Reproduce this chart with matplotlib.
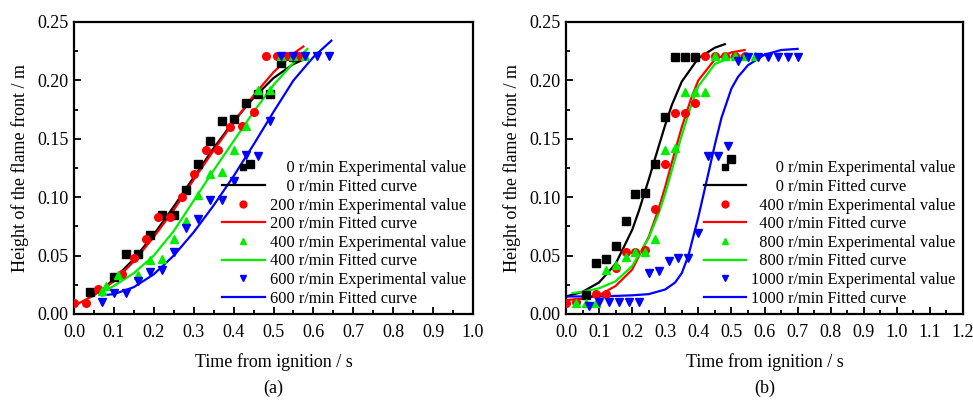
import matplotlib

matplotlib.use("Agg")
import matplotlib.pyplot as plt
from matplotlib.ticker import MultipleLocator, FormatStrFormatter

plt.rcParams["font.family"] = ["Liberation Serif", "DejaVu Serif"]
plt.rcParams["mathtext.fontset"] = "stix"

# ---------------- panel (a): 0 / 200 / 400 / 600 r/min ----------------
a_speeds = ["0", "200", "400", "600"]

a0_t = [0.04, 0.10, 0.13, 0.16, 0.19, 0.22, 0.25, 0.28, 0.31, 0.34, 0.37, 0.40, 0.43, 0.44, 0.46, 0.49, 0.52, 0.55]
a0_h = [0.019, 0.032, 0.051, 0.051, 0.068, 0.085, 0.085, 0.106, 0.128, 0.148, 0.165, 0.167, 0.181, 0.128, 0.188, 0.188, 0.215, 0.220]
a200_t = [0.00, 0.03, 0.06, 0.12, 0.15, 0.18, 0.21, 0.24, 0.27, 0.30, 0.33, 0.36, 0.39, 0.42, 0.45, 0.48, 0.51, 0.535, 0.565]
a200_h = [0.009, 0.009, 0.021, 0.034, 0.048, 0.064, 0.083, 0.083, 0.100, 0.120, 0.140, 0.140, 0.160, 0.161, 0.173, 0.221, 0.221, 0.221, 0.221]
a400_t = [0.07, 0.08, 0.11, 0.16, 0.19, 0.22, 0.25, 0.28, 0.31, 0.34, 0.37, 0.40, 0.43, 0.46, 0.49, 0.52, 0.55, 0.58]
a400_h = [0.020, 0.024, 0.033, 0.033, 0.046, 0.047, 0.064, 0.080, 0.102, 0.120, 0.122, 0.140, 0.161, 0.192, 0.192, 0.221, 0.221, 0.221]
a600_t = [0.07, 0.10, 0.13, 0.16, 0.19, 0.22, 0.25, 0.28, 0.31, 0.34, 0.37, 0.40, 0.43, 0.46, 0.49, 0.52, 0.55, 0.58, 0.61, 0.64]
a600_h = [0.010, 0.018, 0.018, 0.028, 0.036, 0.038, 0.053, 0.074, 0.081, 0.098, 0.098, 0.114, 0.136, 0.135, 0.165, 0.221, 0.221, 0.221, 0.221, 0.221]

# fitted curves
a0_fit_t = [0.065, 0.10, 0.15, 0.20, 0.25, 0.30, 0.35, 0.40, 0.45, 0.50, 0.55, 0.57]
a0_fit_h = [0.019, 0.030, 0.047, 0.068, 0.092, 0.117, 0.142, 0.165, 0.185, 0.202, 0.214, 0.217]
a200_fit_t = [0.00, 0.05, 0.10, 0.15, 0.20, 0.25, 0.30, 0.35, 0.40, 0.45, 0.50, 0.55, 0.575]
a200_fit_h = [0.007, 0.016, 0.028, 0.045, 0.066, 0.089, 0.115, 0.140, 0.164, 0.187, 0.207, 0.223, 0.229]
a400_fit_t = [0.065, 0.10, 0.15, 0.20, 0.25, 0.30, 0.35, 0.40, 0.45, 0.50, 0.55, 0.585]
a400_fit_h = [0.018, 0.024, 0.035, 0.050, 0.071, 0.097, 0.123, 0.148, 0.173, 0.196, 0.215, 0.227]
a600_fit_t = [0.07, 0.10, 0.15, 0.20, 0.25, 0.30, 0.35, 0.40, 0.45, 0.50, 0.55, 0.60, 0.645]
a600_fit_h = [0.016, 0.017, 0.023, 0.034, 0.050, 0.070, 0.093, 0.118, 0.145, 0.173, 0.200, 0.220, 0.234]

# ---------------- panel (b): 0 / 400 / 800 / 1000 r/min ----------------
b_speeds = ["0", "400", "800", "1000"]

b0_t = [0.06, 0.09, 0.12, 0.15, 0.18, 0.21, 0.24, 0.27, 0.30, 0.33, 0.36, 0.39, 0.50]
b0_h = [0.016, 0.044, 0.047, 0.058, 0.080, 0.103, 0.104, 0.128, 0.169, 0.220, 0.220, 0.220, 0.133]
b400_t = [0.00, 0.03, 0.09, 0.12, 0.15, 0.18, 0.21, 0.24, 0.27, 0.30, 0.33, 0.36, 0.39, 0.42, 0.45, 0.48, 0.51, 0.54]
b400_h = [0.009, 0.010, 0.017, 0.017, 0.039, 0.053, 0.053, 0.055, 0.090, 0.128, 0.172, 0.172, 0.181, 0.221, 0.221, 0.221, 0.221, 0.221]
b800_t = [0.03, 0.06, 0.09, 0.12, 0.15, 0.18, 0.21, 0.24, 0.27, 0.30, 0.33, 0.36, 0.39, 0.42, 0.45, 0.48, 0.51, 0.54, 0.57]
b800_h = [0.009, 0.009, 0.009, 0.038, 0.042, 0.049, 0.053, 0.053, 0.064, 0.140, 0.142, 0.190, 0.190, 0.190, 0.221, 0.221, 0.221, 0.221, 0.221]
b1000_t = [0.07, 0.10, 0.13, 0.16, 0.19, 0.22, 0.25, 0.28, 0.31, 0.34, 0.37, 0.40, 0.43, 0.46, 0.49, 0.52, 0.55, 0.58, 0.61, 0.64, 0.67, 0.70]
b1000_h = [0.007, 0.010, 0.010, 0.010, 0.010, 0.010, 0.035, 0.037, 0.045, 0.048, 0.048, 0.069, 0.135, 0.135, 0.144, 0.217, 0.220, 0.220, 0.220, 0.220, 0.220, 0.220]

b0_fit_t = [0.00, 0.05, 0.10, 0.15, 0.20, 0.22, 0.25, 0.27, 0.30, 0.32, 0.35, 0.40, 0.45, 0.48]
b0_fit_h = [0.015, 0.019, 0.027, 0.043, 0.072, 0.088, 0.115, 0.134, 0.162, 0.179, 0.199, 0.219, 0.228, 0.231]
b400_fit_t = [0.00, 0.05, 0.10, 0.15, 0.20, 0.25, 0.28, 0.30, 0.33, 0.35, 0.38, 0.40, 0.45, 0.50, 0.54]
b400_fit_h = [0.012, 0.013, 0.016, 0.024, 0.038, 0.066, 0.090, 0.109, 0.140, 0.160, 0.186, 0.200, 0.218, 0.224, 0.226]
b800_fit_t = [0.02, 0.05, 0.10, 0.15, 0.20, 0.25, 0.28, 0.30, 0.33, 0.35, 0.38, 0.40, 0.45, 0.50, 0.545]
b800_fit_h = [0.018, 0.019, 0.022, 0.028, 0.041, 0.065, 0.086, 0.103, 0.133, 0.153, 0.180, 0.195, 0.214, 0.220, 0.222]
b1000_fit_t = [0.00, 0.10, 0.20, 0.25, 0.30, 0.33, 0.35, 0.37, 0.40, 0.43, 0.45, 0.47, 0.50, 0.52, 0.55, 0.60, 0.65, 0.70]
b1000_fit_h = [0.015, 0.015, 0.016, 0.017, 0.021, 0.027, 0.035, 0.050, 0.083, 0.120, 0.145, 0.168, 0.193, 0.203, 0.213, 0.222, 0.226, 0.227]

COLORS = ["#000000", "#FF0000", "#00EE00", "#0000FF"]
MARKERS = ["s", "o", "^", "v"]


def pad(label, width):
    # Origin pads the speed so the "r/min" parts line up (4 spaces ~ 2 digits)
    return " " * (2 * (width - len(label))) + label


def panel(ax, speeds, exp, fits, xmax, tag):
    handles = []
    width = max(len(s) for s in speeds)
    for i, s in enumerate(speeds):
        t, h = exp[i]
        ft, fh = fits[i]
        m, = ax.plot(t, h, ls="none", marker=MARKERS[i], ms=5.5, color=COLORS[i],
                     label=f"{pad(s, width)} r/min Experimental value", zorder=3)
        l, = ax.plot(ft, fh, color=COLORS[i], lw=1.6,
                     label=f"{pad(s, width)} r/min Fitted curve", zorder=2)
        handles += [m, l]

    ax.set_xlim(0, xmax)
    ax.set_ylim(0, 0.25)
    ax.xaxis.set_major_locator(MultipleLocator(0.1))
    ax.xaxis.set_minor_locator(MultipleLocator(0.05))
    ax.yaxis.set_major_locator(MultipleLocator(0.05))
    ax.yaxis.set_minor_locator(MultipleLocator(0.025))
    ax.xaxis.set_major_formatter(FormatStrFormatter("%.1f"))
    ax.yaxis.set_major_formatter(FormatStrFormatter("%.2f"))
    ax.tick_params(which="both", direction="in", top=False, right=False,
                   labelsize=13, width=1.3)
    ax.tick_params(axis="x", which="both", pad=7)
    ax.tick_params(axis="y", which="both", pad=4)
    ax.tick_params(which="major", length=5)
    ax.tick_params(which="minor", length=3)
    for sp in ax.spines.values():
        sp.set_linewidth(1.6)

    ax.set_xlabel("Time from ignition / s", fontsize=13, labelpad=9)
    ax.set_ylabel("Height of the flame front / m", fontsize=13, labelpad=6)
    ax.text(0.5, -0.255, tag, transform=ax.transAxes, ha="center", va="center",
            fontsize=13)

    ax.legend(handles=handles, loc="lower right", frameon=False, fontsize=11.8,
              handlelength=2.6, handletextpad=0.3, labelspacing=0.16,
              borderaxespad=0.15, borderpad=0.3, markerscale=0.9)


fig = plt.figure(figsize=(9.73, 4.0), dpi=100)
ax_a = fig.add_axes([74 / 973, 86 / 400, 399 / 973, 292 / 400])
ax_b = fig.add_axes([566 / 973, 86 / 400, 397 / 973, 292 / 400])

panel(ax_a, a_speeds,
      [(a0_t, a0_h), (a200_t, a200_h), (a400_t, a400_h), (a600_t, a600_h)],
      [(a0_fit_t, a0_fit_h), (a200_fit_t, a200_fit_h), (a400_fit_t, a400_fit_h), (a600_fit_t, a600_fit_h)],
      1.0, "(a)")
panel(ax_b, b_speeds,
      [(b0_t, b0_h), (b400_t, b400_h), (b800_t, b800_h), (b1000_t, b1000_h)],
      [(b0_fit_t, b0_fit_h), (b400_fit_t, b400_fit_h), (b800_fit_t, b800_fit_h), (b1000_fit_t, b1000_fit_h)],
      1.2, "(b)")

fig.savefig("out.png", dpi=100, facecolor="white")
